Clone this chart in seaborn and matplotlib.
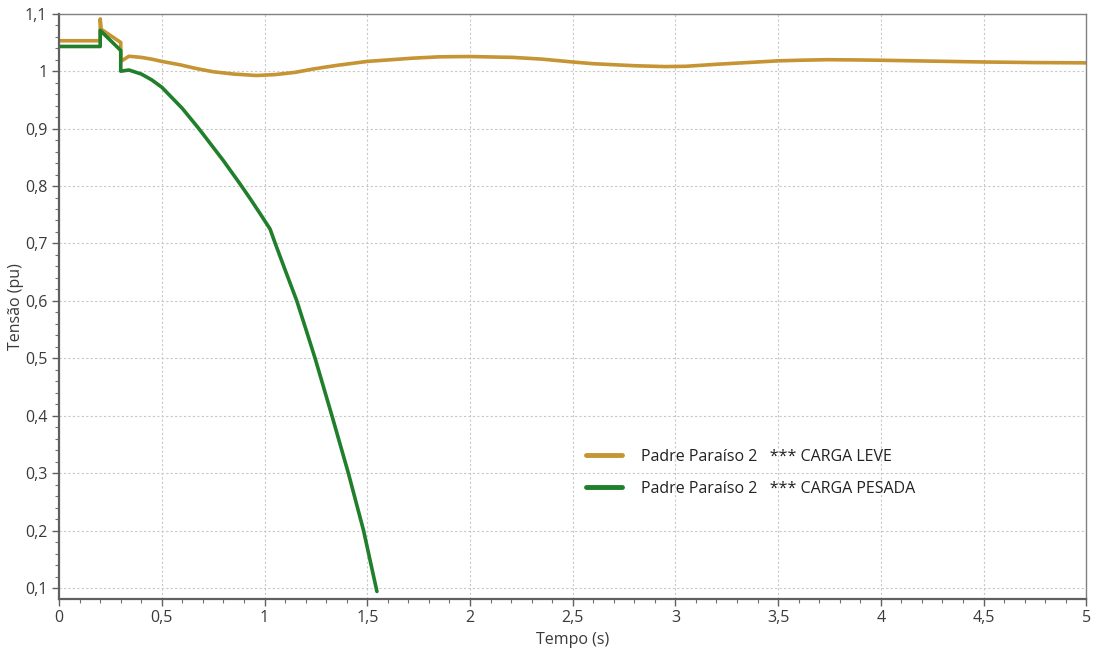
import pandas as pd
import numpy as np
import matplotlib
matplotlib.use("Agg")
import matplotlib.pyplot as plt
import seaborn as sns
from matplotlib.ticker import MultipleLocator, FuncFormatter

sns.set_theme(style="white")
plt.rcParams['font.family'] = ['Open Sans', 'DejaVu Sans']

# tensao no barramento Padre Paraiso 2
t_leve = [0, 0.2, 0.2, 0.205, 0.3, 0.3, 0.34, 0.4, 0.45, 0.5, 0.59, 0.65, 0.69, 0.75, 0.85,
          0.96, 1.05, 1.15, 1.24, 1.35, 1.5, 1.72, 1.85, 2.0, 2.21, 2.35, 2.5, 2.6, 2.8,
          2.95, 3.05, 3.2, 3.35, 3.5, 3.6, 3.74, 3.9, 4.0, 4.25, 4.5, 4.75, 5.0]
v_leve = [1.053, 1.053, 1.091, 1.073, 1.05, 1.017, 1.026, 1.024, 1.021, 1.017, 1.011, 1.006,
          1.003, 0.999, 0.995, 0.9925, 0.994, 0.998, 1.004, 1.010, 1.017, 1.0226, 1.025,
          1.0255, 1.024, 1.021, 1.016, 1.013, 1.0095, 1.008, 1.0085, 1.012, 1.015, 1.018,
          1.019, 1.020, 1.0195, 1.019, 1.0175, 1.016, 1.015, 1.0145]

t_pesada = [0, 0.2, 0.2, 0.3, 0.3, 0.34, 0.4, 0.45, 0.5, 0.6, 0.68, 0.8, 0.88, 0.93, 0.98,
            1.027, 1.052, 1.1, 1.157, 1.2, 1.246, 1.328, 1.408, 1.482, 1.547]
v_pesada = [1.043, 1.043, 1.071, 1.036, 1.0, 1.002, 0.995, 0.985, 0.972, 0.935, 0.9, 0.844,
            0.804, 0.778, 0.751, 0.725, 0.7, 0.654, 0.6, 0.552, 0.5, 0.4, 0.3, 0.2, 0.094]

labels = ["Padre Paraíso 2   *** CARGA LEVE", "Padre Paraíso 2   *** CARGA PESADA"]
cores = ["#C69433", "#1F7F2A"]

df = pd.concat([
    pd.DataFrame({"t": t_leve, "v": v_leve, "caso": labels[0]}),
    pd.DataFrame({"t": t_pesada, "v": v_pesada, "caso": labels[1]}),
])

fig, ax = plt.subplots(figsize=(10.95, 6.55), dpi=100)
fig.subplots_adjust(left=0.054, right=0.992, top=0.979, bottom=0.086)

sns.lineplot(data=df, x="t", y="v", hue="caso", palette=cores, estimator=None,
             sort=False, linewidth=2.6, ax=ax)

ax.set_xlim(0, 5)
ax.set_ylim(0.0814, 1.1)
ax.xaxis.set_major_locator(MultipleLocator(0.5))
ax.xaxis.set_minor_locator(MultipleLocator(0.1))
ax.yaxis.set_major_locator(MultipleLocator(0.1))
ax.yaxis.set_minor_locator(MultipleLocator(0.02))

virgula = FuncFormatter(lambda x, pos: ("%g" % round(x, 2)).replace(".", ","))
ax.xaxis.set_major_formatter(virgula)
ax.yaxis.set_major_formatter(virgula)

ax.tick_params(which="major", direction="out", length=5, width=1, color="#606060",
               labelsize=11.5, labelcolor="#3a3a3a", left=True, bottom=True)
ax.tick_params(which="minor", direction="out", length=3, width=0.8, color="#707070",
               left=True, bottom=True)

ax.grid(True, which="major", color="#c8c8c8", linestyle=(0, (2, 2)), linewidth=0.8)

for lado in ["left", "bottom"]:
    ax.spines[lado].set_color("#606060")
    ax.spines[lado].set_linewidth(1.6)
for lado in ["top", "right"]:
    ax.spines[lado].set_color("#808080")
    ax.spines[lado].set_linewidth(1.0)

ax.set_xlabel("Tempo (s)", fontsize=11.5, color="#3a3a3a", labelpad=4)
ax.set_ylabel("Tensão (pu)", fontsize=11.5, color="#3a3a3a", labelpad=1)

leg = ax.legend(loc="upper left", bbox_to_anchor=(0.5055, 0.270), frameon=False,
                fontsize=11.5, handlelength=2.25, handletextpad=1.2, labelspacing=1.0,
                borderpad=0)
for linha in leg.get_lines():
    linha.set_linewidth(3.5)
for txt in leg.get_texts():
    txt.set_color("#222222")

plt.savefig("out.png", dpi=100)
